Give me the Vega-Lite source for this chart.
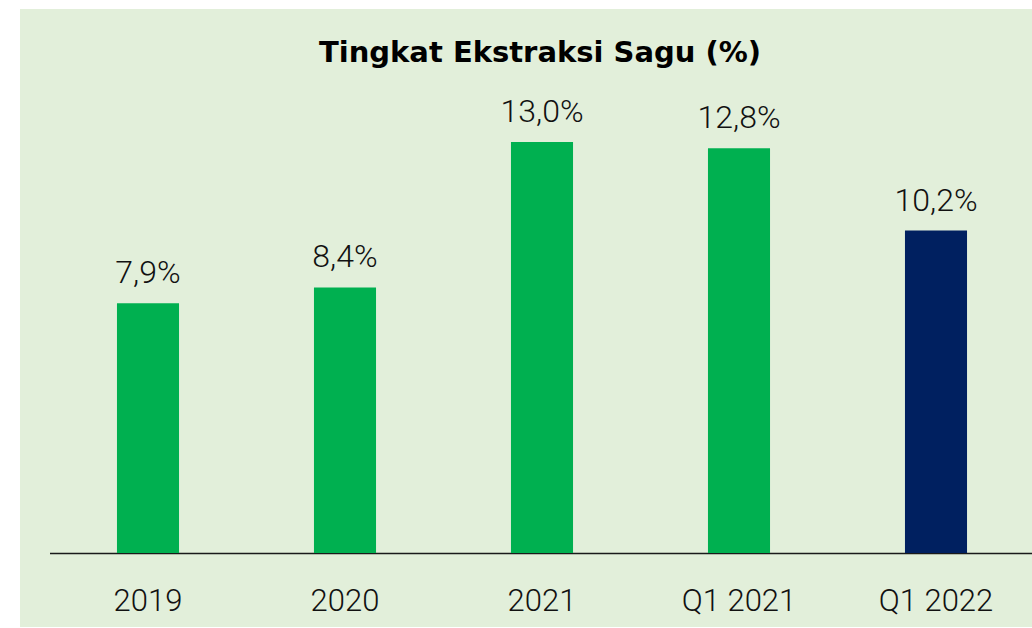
{
  "$schema": "https://vega.github.io/schema/vega-lite/v6.json",
  "width": 1012,
  "height": 618,
  "autosize": {"type": "none"},
  "padding": {"left": 20, "top": 9, "right": 0, "bottom": 1},
  "background": "#ffffff",
  "config": {
    "view": {"fill": "#E2EFDA", "stroke": null},
    "font": "Roboto"
  },
  "title": {
    "text": "Tingkat Ekstraksi Sagu (%)",
    "anchor": "middle",
    "frame": "group",
    "orient": "top",
    "offset": -82,
    "baseline": "alphabetic",
    "dx": 14,
    "font": "DejaVu Sans",
    "fontSize": 29,
    "fontWeight": "bold",
    "color": "#000000"
  },
  "data": {
    "values": [
      {"period": "2019", "value": 7.9, "label": "7,9%", "group": "annual"},
      {"period": "2020", "value": 8.4, "label": "8,4%", "group": "annual"},
      {"period": "2021", "value": 13.0, "label": "13,0%", "group": "annual"},
      {"period": "Q1 2021", "value": 12.8, "label": "12,8%", "group": "annual"},
      {"period": "Q1 2022", "value": 10.2, "label": "10,2%", "group": "latest"}
    ]
  },
  "encoding": {
    "x": {
      "field": "period",
      "type": "nominal",
      "sort": null,
      "scale": {"range": [29.5, 1014.5], "paddingInner": 0.685, "paddingOuter": 0.3425},
      "axis": {
        "title": null,
        "offset": -74,
        "labelAngle": 0,
        "labelFont": "Roboto",
        "labelFontWeight": 300,
        "labelFontSize": 31,
        "labelColor": "#111111",
        "labelBaseline": "alphabetic",
        "labelPadding": 57,
        "ticks": false,
        "grid": false,
        "domainColor": "#1a1a1a",
        "domainWidth": 1.4
      }
    },
    "y": {
      "field": "value",
      "type": "quantitative",
      "scale": {"domain": [0, 13], "range": [544, 133], "nice": false, "zero": true},
      "axis": null
    }
  },
  "layer": [
    {
      "mark": {"type": "bar", "clip": false},
      "encoding": {
        "color": {
          "field": "group",
          "type": "nominal",
          "scale": {"domain": ["annual", "latest"], "range": ["#00B050", "#002060"]},
          "legend": null
        }
      }
    },
    {
      "mark": {
        "type": "text",
        "baseline": "alphabetic",
        "dy": -20,
        "font": "Roboto",
        "fontWeight": 300,
        "fontSize": 32,
        "color": "#111111"
      },
      "encoding": {"text": {"field": "label", "type": "nominal"}}
    }
  ]
}
